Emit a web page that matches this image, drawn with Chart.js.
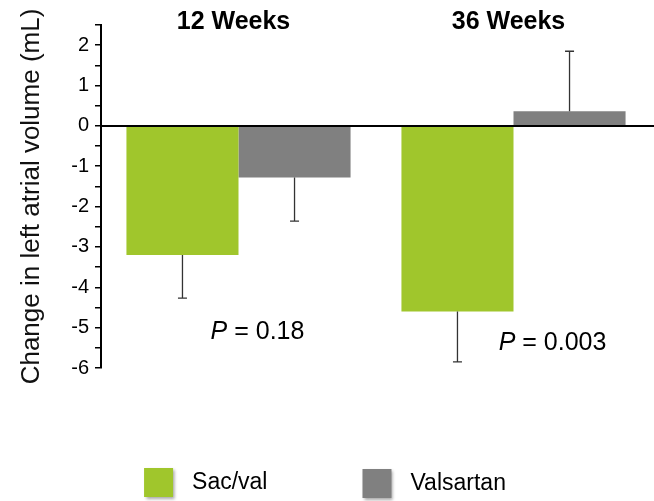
<!DOCTYPE html>
<html>
<head>
<meta charset="utf-8">
<script src="https://cdn.jsdelivr.net/npm/chart.js@4"></script>
<style>
  html, body { margin: 0; padding: 0; background: #fff; }
  #wrap { width: 654px; height: 501px; }
</style>
</head>
<body>
<div id="wrap"><canvas id="laChart"></canvas></div>
<script>
// data
const groups = ['12 Weeks', '36 Weeks'];
const seriesNames = ['Sac/val', 'Valsartan'];
const sacvalMean = [-3.2, -4.6];
const sacvalErr = [1.07, 1.25];
const valsartanMean = [-1.28, 0.36];
const valsartanErr = [1.08, 1.49];
const pValues = ['0.18', '0.003'];
const yMin = -6;
const yMax = 2.5;
const yStep = 0.5;

const FONT = "Arial, 'Liberation Sans', sans-serif";
const GREEN = '#A0C62C';
const GREY = '#808080';

const errors = [sacvalErr, valsartanErr];

// error bars, zero line, headers, p-values and legend
const extras = {
    id: 'extras',
    afterDatasetsDraw(chart) {
        const ctx = chart.ctx;
        const y = chart.scales.y;
        const area = chart.chartArea;

        // zero line across the plot
        const y0 = y.getPixelForValue(0);
        ctx.save();
        ctx.strokeStyle = '#000';
        ctx.lineWidth = 2;
        ctx.beginPath();
        ctx.moveTo(area.left, y0);
        ctx.lineTo(chart.width, y0);
        ctx.stroke();

        // error bars (one side, away from zero)
        ctx.strokeStyle = '#333';
        ctx.lineWidth = 1.3;
        chart.data.datasets.forEach((ds, di) => {
            const meta = chart.getDatasetMeta(di);
            meta.data.forEach((bar, i) => {
                const v = ds.data[i];
                const end = v < 0 ? v - errors[di][i] : v + errors[di][i];
                const ya = y.getPixelForValue(v);
                const yb = y.getPixelForValue(end);
                ctx.beginPath();
                ctx.moveTo(bar.x, ya);
                ctx.lineTo(bar.x, yb);
                ctx.moveTo(bar.x - 4.5, yb);
                ctx.lineTo(bar.x + 4.5, yb);
                ctx.stroke();
            });
        });
        ctx.restore();
    },
    afterDraw(chart) {
        const ctx = chart.ctx;
        const x = chart.scales.x;
        const y = chart.scales.y;
        ctx.save();
        ctx.fillStyle = '#000';

        // group headers
        ctx.font = 'bold 25px ' + FONT;
        ctx.textAlign = 'center';
        ctx.textBaseline = 'middle';
        groups.forEach((g, i) => {
            ctx.fillText(g, x.getPixelForValue(i) - 5, 22);
        });

        // p-values
        const pPos = [[19, -5.11], [39, -5.38]];
        ctx.textAlign = 'left';
        pValues.forEach((p, i) => {
            ctx.font = 'italic 25px ' + FONT;
            const wP = ctx.measureText('P').width;
            ctx.font = '25px ' + FONT;
            const rest = ' = ' + p;
            const wR = ctx.measureText(rest).width;
            const cx = x.getPixelForValue(i) + pPos[i][0];
            const cy = y.getPixelForValue(pPos[i][1]);
            const left = cx - (wP + wR) / 2;
            ctx.font = 'italic 25px ' + FONT;
            ctx.fillText('P', left, cy);
            ctx.font = '25px ' + FONT;
            ctx.fillText(rest, left + wP, cy);
        });

        // legend
        const box = 29, gapText = 19, gapItem = 95, top = 468;
        ctx.font = '23px ' + FONT;
        const widths = seriesNames.map(n => box + gapText + ctx.measureText(n).width);
        const total = widths.reduce((a, b) => a + b, 0) + gapItem;
        let lx = chart.width / 2 - 2 - total / 2;
        seriesNames.forEach((name, i) => {
            ctx.save();
            ctx.shadowColor = 'rgba(0,0,0,0.35)';
            ctx.shadowBlur = 3;
            ctx.shadowOffsetX = 2;
            ctx.shadowOffsetY = 2;
            ctx.fillStyle = chart.data.datasets[i].backgroundColor;
            ctx.fillRect(lx, top + i, box, box);
            ctx.restore();
            ctx.fillStyle = '#000';
            ctx.textBaseline = 'middle';
            ctx.fillText(name, lx + box + gapText, top + box / 2 + i);
            lx += widths[i] + gapItem;
        });
        ctx.restore();
    }
};

new Chart(document.getElementById('laChart'), {
    type: 'bar',
    data: {
        labels: groups,
        datasets: [
            {
                label: seriesNames[0],
                data: sacvalMean,
                backgroundColor: GREEN,
                borderWidth: 0
            },
            {
                label: seriesNames[1],
                data: valsartanMean,
                backgroundColor: GREY,
                borderWidth: 0
            }
        ]
    },
    plugins: [extras],
    options: {
        responsive: true,
        maintainAspectRatio: false,
        animation: false,
        datasets: {
            bar: {
                barPercentage: 1,
                categoryPercentage: 0.815
            }
        },
        layout: {
            padding: { top: 25, right: 3, bottom: 133, left: 0 }
        },
        plugins: {
            legend: { display: false },
            tooltip: { enabled: false }
        },
        scales: {
            x: {
                display: false
            },
            y: {
                min: yMin,
                max: yMax,
                afterFit: function(scale) {
                    scale.width = 101;
                },
                border: {
                    color: '#000',
                    width: 2
                },
                grid: {
                    drawOnChartArea: false,
                    color: '#000',
                    lineWidth: 1.5,
                    tickLength: 6
                },
                ticks: {
                    stepSize: yStep,
                    autoSkip: false,
                    color: '#000',
                    padding: 6,
                    font: { family: FONT, size: 20 },
                    callback: function(value) {
                        return Number.isInteger(value) ? String(value) : '';
                    }
                },
                title: {
                    display: true,
                    text: 'Change in left atrial volume (mL)',
                    color: '#111',
                    font: { family: FONT, size: 26 },
                    padding: { top: 16, bottom: 0 }
                }
            }
        }
    }
});
</script>
</body>
</html>
